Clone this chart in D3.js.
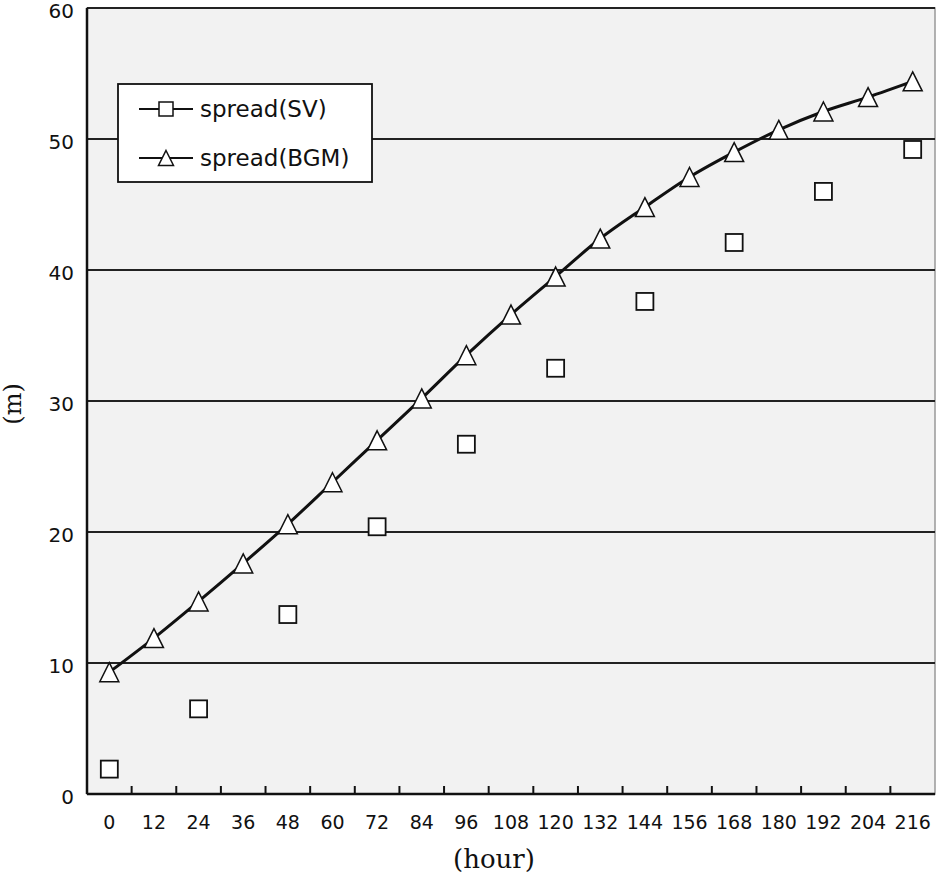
<!DOCTYPE html>
<html>
<head>
<meta charset="utf-8">
<script src="https://cdn.jsdelivr.net/npm/d3@7"></script>
<style>
  body { margin: 0; background: #fff; }
</style>
</head>
<body>
<div id="chart"></div>
<script>
var hours = [0, 12, 24, 36, 48, 60, 72, 84, 96, 108, 120, 132, 144, 156, 168, 180, 192, 204, 216];
var svHours = [0, 24, 48, 72, 96, 120, 144, 168, 192, 216];
var svValues = [1.9, 6.5, 13.7, 20.4, 26.7, 32.5, 37.6, 42.1, 46.0, 49.2];
var bgmValues = [9.3, 11.9, 14.7, 17.6, 20.6, 23.8, 27.0, 30.2, 33.5, 36.6, 39.5, 42.4, 44.8, 47.1, 49.0, 50.7, 52.1, 53.2, 54.4];
var yTicks = [0, 10, 20, 30, 40, 50, 60];
var seriesNames = ['spread(SV)', 'spread(BGM)'];

var w = 937;
var h = 878;
var plotLeft = 87, plotRight = 935, plotTop = 8, plotBottom = 794;

var svg = d3
  .select('#chart')
  .append('svg')
  .attr('width', w)
  .attr('height', h);

var x = d3.scaleBand().domain(hours).range([plotLeft, plotRight]);
var y = d3.scaleLinear().domain([0, 60]).range([plotBottom, plotTop]);

function cx(d) {
  return x(d) + x.bandwidth() / 2;
}

// plot area
svg.append('rect')
  .attr('x', plotLeft)
  .attr('y', plotTop)
  .attr('width', plotRight - plotLeft)
  .attr('height', plotBottom - plotTop)
  .attr('fill', '#f2f2f2')
  .attr('stroke', '#999')
  .attr('stroke-width', 1.5);

// grid lines
svg.selectAll('.grid')
  .data(yTicks.slice(1))
  .enter()
  .append('line')
  .attr('class', 'grid')
  .attr('x1', plotLeft)
  .attr('x2', plotRight)
  .attr('y1', function (d) { return y(d); })
  .attr('y2', function (d) { return y(d); })
  .attr('stroke', '#222')
  .attr('stroke-width', 2);

// left and bottom axis lines
svg.append('line')
  .attr('x1', plotLeft).attr('x2', plotLeft)
  .attr('y1', plotTop).attr('y2', plotBottom)
  .attr('stroke', '#111').attr('stroke-width', 2.5);
svg.append('line')
  .attr('x1', plotLeft).attr('x2', plotRight)
  .attr('y1', plotBottom).attr('y2', plotBottom)
  .attr('stroke', '#111').attr('stroke-width', 2.5);

// x ticks between categories (inside)
svg.selectAll('.xtick')
  .data(hours.slice(1))
  .enter()
  .append('line')
  .attr('class', 'xtick')
  .attr('x1', function (d) { return x(d); })
  .attr('x2', function (d) { return x(d); })
  .attr('y1', plotBottom)
  .attr('y2', plotBottom - 8)
  .attr('stroke', '#111')
  .attr('stroke-width', 2);

// y tick labels
svg.selectAll('.ylabel')
  .data(yTicks)
  .enter()
  .append('text')
  .attr('class', 'ylabel')
  .attr('x', 74)
  .attr('y', function (d) { return y(d) + 10; })
  .attr('text-anchor', 'end')
  .attr('font-family', 'DejaVu Sans, sans-serif')
  .attr('font-size', '20px')
  .attr('fill', '#111')
  .text(function (d) { return d; });

// x tick labels
svg.selectAll('.xlabel')
  .data(hours)
  .enter()
  .append('text')
  .attr('class', 'xlabel')
  .attr('x', cx)
  .attr('y', 829)
  .attr('text-anchor', 'middle')
  .attr('font-family', 'DejaVu Sans, sans-serif')
  .attr('font-size', '19px')
  .attr('fill', '#111')
  .text(function (d) { return d; });

// axis titles
svg.append('text')
  .attr('transform', 'translate(21,404) rotate(-90)')
  .attr('text-anchor', 'middle')
  .attr('font-family', 'DejaVu Serif, serif')
  .attr('font-size', '24px')
  .attr('fill', '#111')
  .text('(m)');
svg.append('text')
  .attr('x', 494)
  .attr('y', 868)
  .attr('text-anchor', 'middle')
  .attr('font-family', 'DejaVu Serif, serif')
  .attr('font-size', '26px')
  .attr('fill', '#111')
  .text('(hour)');

// BGM smoothed line
var line = d3.line()
  .x(function (d, i) { return cx(hours[i]); })
  .y(function (d) { return y(d); })
  .curve(d3.curveCatmullRom.alpha(0.5));

svg.append('path')
  .datum(bgmValues)
  .attr('d', line)
  .attr('fill', 'none')
  .attr('stroke', '#111')
  .attr('stroke-width', 3);

function trianglePath(s) {
  return 'M0,' + (-s / 2) + 'L' + (s / 2) + ',' + (s / 2) + 'L' + (-s / 2) + ',' + (s / 2) + 'Z';
}

// triangle markers
svg.selectAll('.tri')
  .data(bgmValues)
  .enter()
  .append('path')
  .attr('class', 'tri')
  .attr('d', trianglePath(19))
  .attr('transform', function (d, i) {
    return 'translate(' + cx(hours[i]) + ',' + y(d) + ')';
  })
  .attr('fill', '#fff')
  .attr('stroke', '#111')
  .attr('stroke-width', 1.5);

// square markers
svg.selectAll('.sq')
  .data(svValues)
  .enter()
  .append('rect')
  .attr('class', 'sq')
  .attr('x', function (d, i) { return cx(svHours[i]) - 8.5; })
  .attr('y', function (d) { return y(d) - 8.5; })
  .attr('width', 17)
  .attr('height', 17)
  .attr('fill', '#fff')
  .attr('stroke', '#111')
  .attr('stroke-width', 1.8);

// legend
var legend = svg.append('g');
legend.append('rect')
  .attr('x', 118)
  .attr('y', 84)
  .attr('width', 254)
  .attr('height', 98)
  .attr('fill', '#fff')
  .attr('stroke', '#111')
  .attr('stroke-width', 1.8);

var rows = legend.selectAll('.row')
  .data(seriesNames)
  .enter()
  .append('g')
  .attr('class', 'row')
  .attr('transform', function (d, i) { return 'translate(0,' + (109 + i * 49) + ')'; });

rows.append('line')
  .attr('x1', 139)
  .attr('x2', 193)
  .attr('stroke', '#111')
  .attr('stroke-width', 2);

rows.each(function (d, i) {
  var g = d3.select(this);
  if (i === 0) {
    g.append('rect')
      .attr('x', 159).attr('y', -7)
      .attr('width', 14).attr('height', 14)
      .attr('fill', '#fff').attr('stroke', '#111').attr('stroke-width', 1.5);
  } else {
    g.append('path')
      .attr('d', trianglePath(15))
      .attr('transform', 'translate(166,0)')
      .attr('fill', '#fff').attr('stroke', '#111').attr('stroke-width', 1.5);
  }
});

rows.append('text')
  .attr('x', 200)
  .attr('y', 8)
  .attr('font-family', 'DejaVu Sans, sans-serif')
  .attr('font-size', '23px')
  .attr('fill', '#111')
  .text(function (d) { return d; });
</script>
</body>
</html>
